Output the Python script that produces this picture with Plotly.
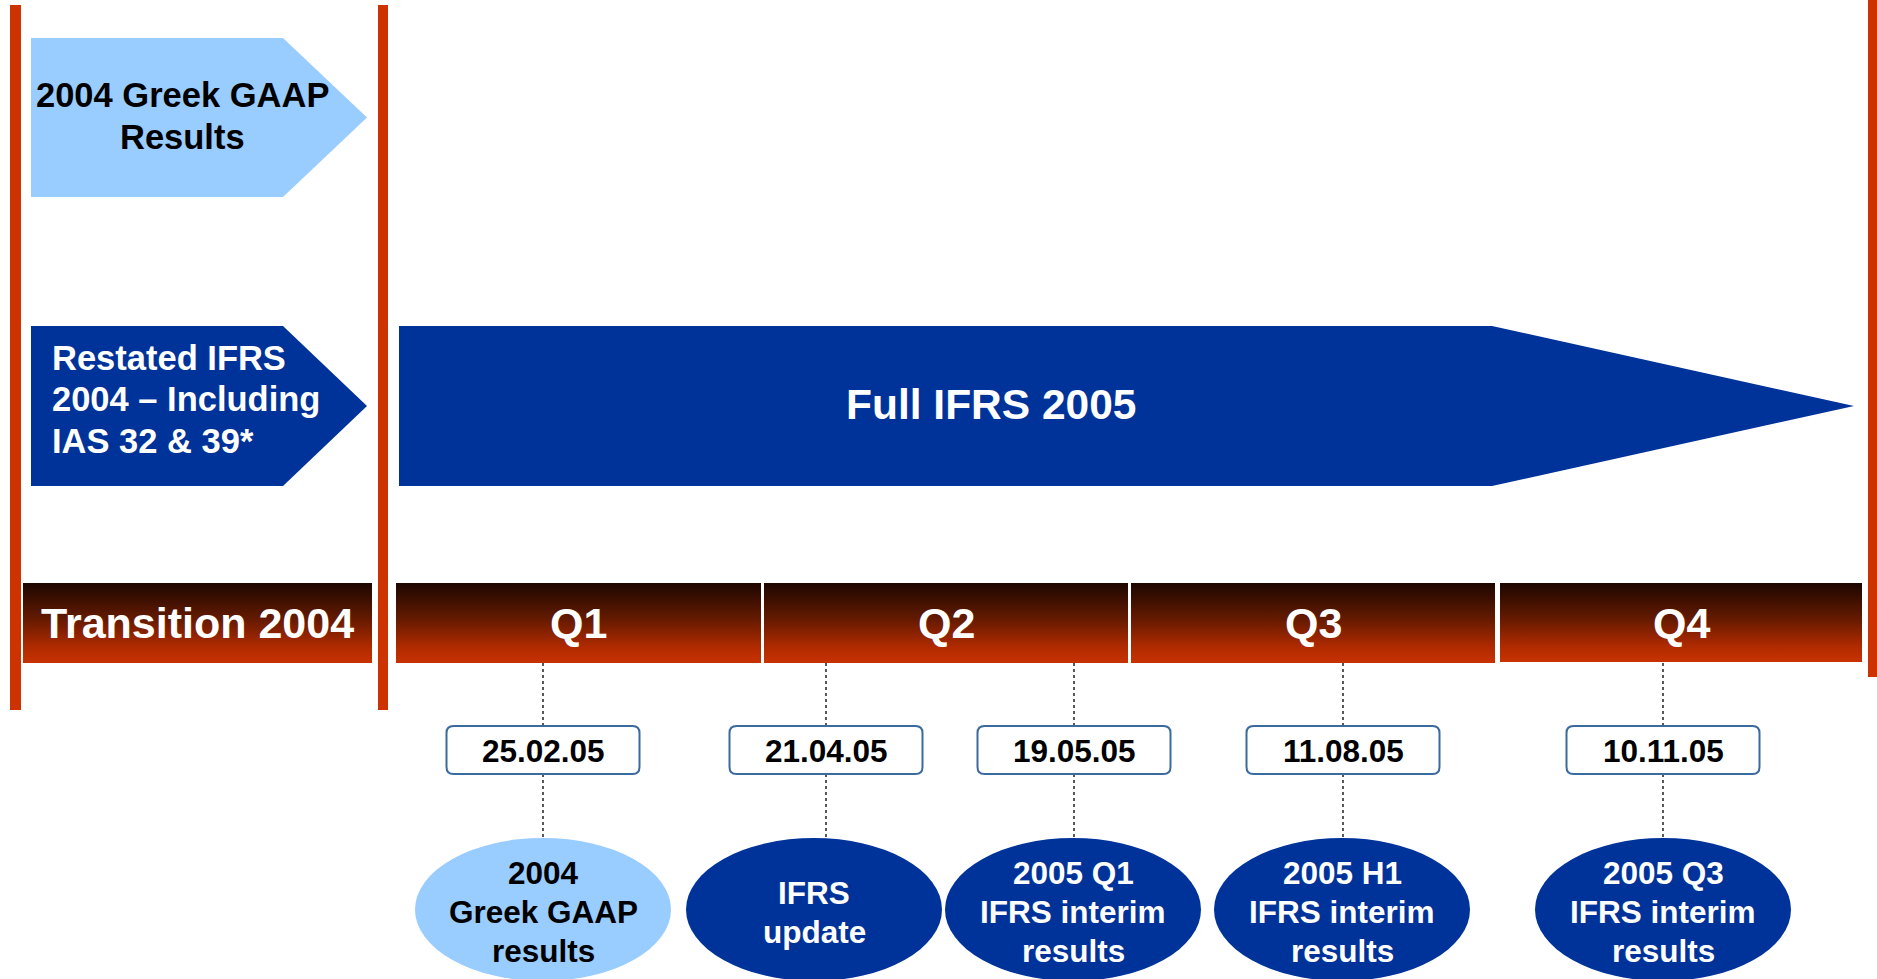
import plotly.graph_objects as go

# ---------------- data ----------------
left_labels = ["2004 Greek GAAP<br>Results", "Restated IFRS<br>2004 – Including<br>IAS 32 & 39*"]
banner_label = "Full IFRS 2005"
period_labels = ["Transition 2004", "Q1", "Q2", "Q3", "Q4"]
event_dates = ["25.02.05", "21.04.05", "19.05.05", "11.08.05", "10.11.05"]
event_labels = ["2004<br>Greek GAAP<br>results", "IFRS<br>update",
                "2005 Q1<br>IFRS interim<br>results", "2005 H1<br>IFRS interim<br>results",
                "2005 Q3<br>IFRS interim<br>results"]
event_kind = ["gaap", "ifrs", "ifrs", "ifrs", "ifrs"]

# ---------------- layout (pixel space) ----------------
W, H = 1877, 979
FONT = "Liberation Sans, Arial, sans-serif"
DARK_BLUE = "#003399"
LIGHT_BLUE = "#99CCFF"
RED = "#CC3300"
period_x = [(23, 372), (396, 761), (764, 1128), (1131, 1495), (1500, 1862)]
period_y = (583, 663)
event_line_x = [543, 826, 1074, 1343, 1663]
event_ellipse_x = [543, 814, 1073, 1342, 1663]
date_box_y = (726, 774)
date_box_w = 193
ellipse_y = (838, 981)
ellipse_w = 256

fig = go.Figure()
shapes = []
annotations = []

def multiline(text, x, yc, spacing, xanchor, font):
    lines = text.split("<br>")
    n = len(lines)
    for i, ln in enumerate(lines):
        y = yc + (i - (n - 1) / 2) * spacing
        annotations.append(dict(x=x, y=y, text=ln, showarrow=False, xanchor=xanchor, yanchor="middle",
                                font=font))

# red vertical separators
for x0, x1, y0, y1 in [(10, 21, 5, 710), (378, 388, 5, 710), (1868, 1880, 0, 677)]:
    shapes.append(dict(type="rect", x0=x0, x1=x1, y0=y0, y1=y1, fillcolor=RED, line_width=0, layer="below"))

def arrow_path(x0, xr, xt, y0, y1):
    ym = (y0 + y1) / 2
    return f"M{x0},{y0} L{xr},{y0} L{xt},{ym} L{xr},{y1} L{x0},{y1} Z"

shapes.append(dict(type="path", path=arrow_path(31, 283, 367, 38, 197), fillcolor=LIGHT_BLUE, line_width=0))
shapes.append(dict(type="path", path=arrow_path(31, 283, 367, 326, 486), fillcolor=DARK_BLUE, line_width=0))
shapes.append(dict(type="path", path=arrow_path(399, 1492, 1854, 326, 486), fillcolor=DARK_BLUE, line_width=0))

multiline(left_labels[0], 182, 116, 41.5, "center",
          dict(family=FONT, size=34.5, color="black", weight="bold"))
multiline(left_labels[1], 50, 399, 41.5, "left",
          dict(family=FONT, size=34.5, color="white", weight="bold"))
annotations.append(dict(x=991, y=404, text=banner_label, showarrow=False, xanchor="center", yanchor="middle",
                        font=dict(family=FONT, size=42.5, color="white", weight="bold")))

# header boxes with vertical gradient
grad = [[0, "#1c0600"], [0.45, "#641a00"], [0.8, "#b02a00"], [1, "#c83200"]]
for lab, (x0, x1) in zip(period_labels, period_x):
    y0, y1 = period_y
    if lab == "Q4":
        y1 = 662
    fig.add_trace(go.Scatter(x=[x0, x1, x1, x0, x0], y=[y0, y0, y1, y1, y0], mode="lines",
                             fill="toself", line=dict(width=0),
                             fillgradient=dict(type="vertical", colorscale=grad, start=y0, stop=y1),
                             hoverinfo="skip", showlegend=False))
    annotations.append(dict(x=(x0 + x1) / 2, y=623, text=lab, showarrow=False, xanchor="center", yanchor="middle",
                            font=dict(family=FONT, size=43, color="white", weight="bold")))

def rrect(x0, y0, x1, y1, r):
    return (f"M{x0+r},{y0} L{x1-r},{y0} Q{x1},{y0} {x1},{y0+r} L{x1},{y1-r} Q{x1},{y1} {x1-r},{y1} "
            f"L{x0+r},{y1} Q{x0},{y1} {x0},{y1-r} L{x0},{y0+r} Q{x0},{y0} {x0+r},{y0} Z")

for d, lab, kind, lx, ex in zip(event_dates, event_labels, event_kind, event_line_x, event_ellipse_x):
    # dotted connectors
    shapes.append(dict(type="line", x0=lx, x1=lx, y0=period_y[1], y1=date_box_y[0],
                       line=dict(color="#222", width=1.5, dash="dot")))
    shapes.append(dict(type="line", x0=lx, x1=lx, y0=date_box_y[1], y1=ellipse_y[0],
                       line=dict(color="#222", width=1.5, dash="dot")))
    # date box
    shapes.append(dict(type="path", path=rrect(lx - date_box_w / 2, date_box_y[0], lx + date_box_w / 2, date_box_y[1], 7),
                       fillcolor="white", line=dict(color="#3B6A9E", width=2)))
    annotations.append(dict(x=lx, y=(date_box_y[0] + date_box_y[1]) / 2 + 1, text=d, showarrow=False,
                            xanchor="center", yanchor="middle",
                            font=dict(family=FONT, size=31.5, color="black", weight="bold")))
    # ellipse
    fill = LIGHT_BLUE if kind == "gaap" else DARK_BLUE
    tcol = "black" if kind == "gaap" else "white"
    shapes.append(dict(type="circle", x0=ex - ellipse_w / 2, x1=ex + ellipse_w / 2, y0=ellipse_y[0], y1=ellipse_y[1],
                       fillcolor=fill, line_width=0))
    multiline(lab, ex, 912, 39, "center", dict(family=FONT, size=31.5, color=tcol, weight="bold"))

fig.update_layout(
    width=W, height=H, margin=dict(l=0, r=0, t=0, b=0),
    paper_bgcolor="white", plot_bgcolor="white",
    xaxis=dict(range=[0, W], visible=False, fixedrange=True),
    yaxis=dict(range=[H, 0], visible=False, fixedrange=True),
    shapes=shapes, annotations=annotations, showlegend=False,
)

fig.write_html("out.html", config={"displayModeBar": False},
               post_script="document.body.style.margin='0';document.body.style.overflow='hidden';")
